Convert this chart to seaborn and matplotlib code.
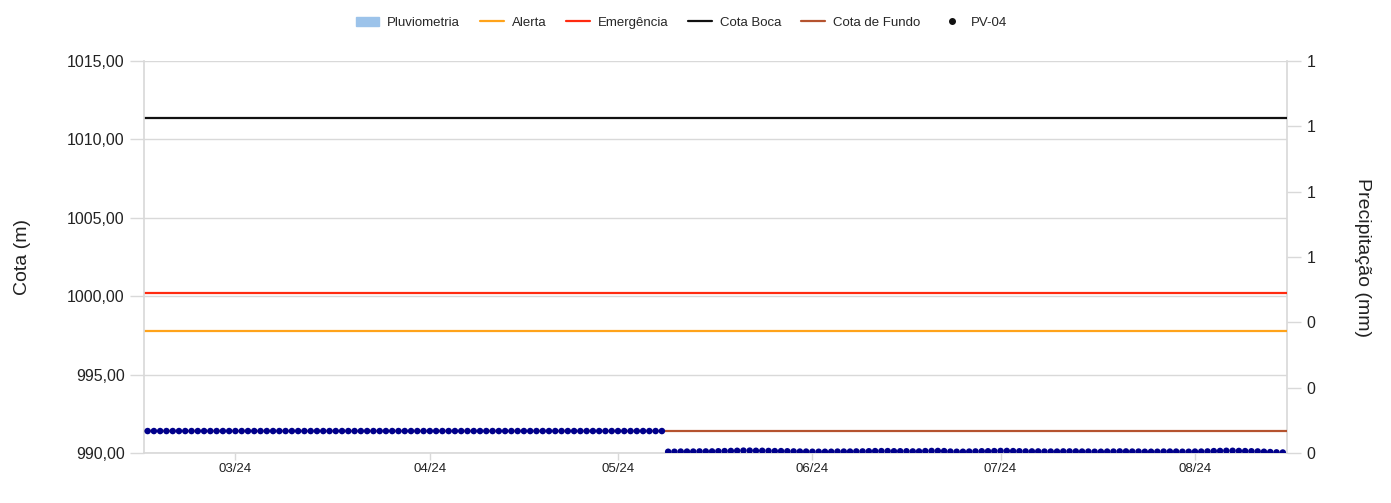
import pandas as pd
import numpy as np
import matplotlib.pyplot as plt
import matplotlib.dates as mdates
import matplotlib.patches as mpatches
from matplotlib.lines import Line2D
from matplotlib.ticker import FixedLocator, FuncFormatter
import seaborn as sns

# === DATA ===
# reference levels (m)
cota_boca = 1011.35
emergencia = 1000.20
alerta = 997.75
cota_fundo = 991.40

# PV-04 readings, daily
inicio_pv = "2024-02-16"
# Feb 16 -> May 8 : dry well, reading sits on the bottom level
pv04_parte1 = [
    991.40, 991.40, 991.40, 991.40, 991.40, 991.40, 991.40, 991.40, 991.40, 991.40,
    991.40, 991.40, 991.40, 991.40, 991.40, 991.40, 991.40, 991.40, 991.40, 991.40,
    991.40, 991.40, 991.40, 991.40, 991.40, 991.40, 991.40, 991.40, 991.40, 991.40,
    991.40, 991.40, 991.40, 991.40, 991.40, 991.40, 991.40, 991.40, 991.40, 991.40,
    991.40, 991.40, 991.40, 991.40, 991.40, 991.40, 991.40, 991.40, 991.40, 991.40,
    991.40, 991.40, 991.40, 991.40, 991.40, 991.40, 991.40, 991.40, 991.40, 991.40,
    991.40, 991.40, 991.40, 991.40, 991.40, 991.40, 991.40, 991.40, 991.40, 991.40,
    991.40, 991.40, 991.40, 991.40, 991.40, 991.40, 991.40, 991.40, 991.40, 991.40,
    991.40, 991.40, 991.40,
]
# May 9 -> Aug 15 : new bottom reference
pv04_parte2 = [
    990.08, 990.08, 990.09, 990.09, 990.09, 990.10, 990.10, 990.10, 990.11, 990.12,
    990.13, 990.14, 990.15, 990.15, 990.14, 990.14, 990.13, 990.12, 990.12, 990.11,
    990.10, 990.09, 990.09, 990.08, 990.08, 990.08, 990.08, 990.09, 990.09, 990.09,
    990.10, 990.10, 990.11, 990.12, 990.12, 990.12, 990.11, 990.11, 990.11, 990.10,
    990.10, 990.12, 990.13, 990.13, 990.12, 990.09, 990.08, 990.08, 990.09, 990.10,
    990.11, 990.11, 990.12, 990.13, 990.13, 990.12, 990.11, 990.10, 990.10, 990.10,
    990.09, 990.09, 990.09, 990.10, 990.10, 990.10, 990.09, 990.09, 990.08, 990.08,
    990.09, 990.09, 990.10, 990.10, 990.09, 990.09, 990.08, 990.08, 990.08, 990.09,
    990.09, 990.09, 990.08, 990.08, 990.09, 990.09, 990.10, 990.12, 990.13, 990.14,
    990.14, 990.13, 990.12, 990.11, 990.10, 990.08, 990.06, 990.04, 990.03,
]
# rainfall (mm) - nothing recorded in the period
pluviometria = []
datas_pluv = []

pv04 = pv04_parte1 + pv04_parte2
datas = pd.date_range(inicio_pv, periods=len(pv04), freq="D")
df = pd.DataFrame({"Data": datas, "Cota": pv04})

meses = ["2024-03-01", "2024-04-01", "2024-05-01", "2024-06-01", "2024-07-01", "2024-08-01"]
ylim_esq = (990, 1015)
yticks_esq = [990, 995, 1000, 1005, 1010, 1015]
yticks_dir = [0, 0.2, 0.4, 0.6, 0.8, 1.0, 1.2]

# === PLOT ===
sns.set_theme(style="white")
plt.rcParams["font.family"] = ["Liberation Sans", "DejaVu Sans"]

fig = plt.figure(figsize=(13.91, 5.03), dpi=100)
ax = fig.add_axes([0.1035, 0.0994, 0.8217, 0.7793])
ax2 = ax.twinx()
ax.set_zorder(ax2.get_zorder() + 1)
ax.patch.set_visible(False)

grid_c = "#d9d9d9"
for y in yticks_esq:
    ax.axhline(y, color=grid_c, lw=1, zorder=0)

# rainfall bars on secondary axis (empty)
ax2.bar(pd.to_datetime(datas_pluv), pluviometria, color="#9cc3ea", label="Pluviometria")

h_alerta = ax.axhline(alerta, color="#ffa31a", lw=1.6, label="Alerta", zorder=2)
h_emerg = ax.axhline(emergencia, color="#ff2a10", lw=1.6, label="Emergência", zorder=2)
h_boca = ax.axhline(cota_boca, color="#111111", lw=1.6, label="Cota Boca", zorder=2)
h_fundo = ax.axhline(cota_fundo, color="#b5532f", lw=1.6, label="Cota de Fundo", zorder=2)

sns.scatterplot(data=df, x="Data", y="Cota", ax=ax, color="#00008b", s=22,
                edgecolor="none", zorder=3, legend=False)

ax.set_xlim(pd.Timestamp("2024-02-15 10:00"), pd.Timestamp("2024-08-15 16:00"))
ax.set_ylim(*ylim_esq)
ax.set_yticks(yticks_esq)
ax.yaxis.set_major_formatter(FuncFormatter(lambda v, p: f"{v:.2f}".replace(".", ",")))
ax.xaxis.set_major_locator(FixedLocator(mdates.date2num(pd.to_datetime(meses))))
ax.xaxis.set_major_formatter(mdates.DateFormatter("%m/%y"))

ax2.set_ylim(0, 1.2)
ax2.set_yticks(yticks_dir)
ax2.yaxis.set_major_formatter(FuncFormatter(lambda v, p: f"{v:.0f}"))

for a in (ax, ax2):
    for s in a.spines.values():
        s.set_visible(False)
ax.spines["left"].set_visible(True)
ax.spines["left"].set_color(grid_c)
ax.spines["bottom"].set_visible(True)
ax.spines["bottom"].set_color(grid_c)
ax2.spines["right"].set_visible(True)
ax2.spines["right"].set_color(grid_c)

ax.tick_params(axis="y", length=10, width=1, color=grid_c, labelsize=11.5, labelcolor="#222222", pad=4)
ax.tick_params(axis="x", length=5, width=1, color=grid_c, labelsize=9.5, labelcolor="#222222", pad=2,
               bottom=True)
ax2.tick_params(axis="y", length=10, width=1, color=grid_c, labelsize=11.5, labelcolor="#222222", pad=4,
                right=True)

ax.set_xlabel("")
ax.set_ylabel("Cota (m)", fontsize=14, color="#222222", labelpad=26)
ax2.set_ylabel("Precipitação (mm)", fontsize=14, color="#222222", rotation=270, labelpad=40)

handles = [
    mpatches.Patch(color="#9cc3ea", label="Pluviometria"),
    h_alerta, h_emerg, h_boca, h_fundo,
    Line2D([], [], ls="none", marker="o", ms=4, color="#111111", label="PV-04"),
]
fig.legend(handles=handles, loc="center", bbox_to_anchor=(0.49, 0.955), ncol=6, frameon=False,
           fontsize=9.5, handlelength=1.8, columnspacing=1.5, handletextpad=0.6)

plt.savefig("out.png", dpi=100)
